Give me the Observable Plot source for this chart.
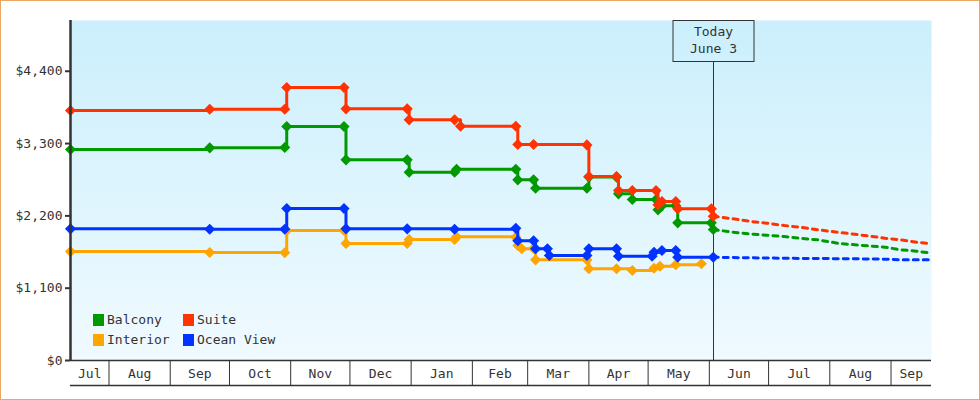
<!DOCTYPE html>
<html>
<head>
<meta charset="utf-8">
<script src="https://cdn.jsdelivr.net/npm/d3@7"></script>
<script src="https://cdn.jsdelivr.net/npm/@observablehq/plot@0.6"></script>
<style>
html, body { margin: 0; padding: 0; background: #fff; }
#wrap { position: relative; width: 980px; height: 400px; overflow: hidden; }
#wrap svg { display: block; }
.border { position: absolute; left: 0; top: 0; width: 980px; height: 400px; box-sizing: border-box; border: 1px solid #e9a862; pointer-events: none; }
</style>
</head>
<body>
<div id="wrap"><div class="border"></div></div>
<script>
// ---- Series ----
const seriesNames  = ["Balcony", "Suite", "Interior", "Ocean View"];
const seriesColors = ["#009900", "#ff3300", "#ffa500", "#0033ff"];
const drawOrder    = ["Interior", "Ocean View", "Balcony", "Suite"];

// ---- Observed prices ----
const balconyDates = ["2014-07-12T12:00Z","2014-09-21","2014-10-29","2014-10-30","2014-11-28","2014-11-29","2014-12-30","2014-12-31","2015-01-23","2015-01-24","2015-02-23","2015-02-24","2015-03-04","2015-03-05","2015-03-31","2015-04-01","2015-04-15","2015-04-16","2015-04-23","2015-05-05","2015-05-06","2015-05-08","2015-05-15","2015-05-16","2015-06-02","2015-06-03"];
const balconyPrices = [3209,3235,3240,3559,3559,3052,3052,2864,2864,2910,2910,2748,2748,2621,2621,2790,2790,2535,2449,2449,2292,2353,2353,2094,2094,1993];

const suiteDates = ["2014-07-12T12:00Z","2014-09-21","2014-10-29","2014-10-30","2014-11-28","2014-11-29","2014-12-30","2014-12-31","2015-01-23","2015-01-26","2015-02-23","2015-02-24","2015-03-04","2015-03-31","2015-04-01","2015-04-15","2015-04-16","2015-04-23","2015-05-05","2015-05-06","2015-05-08","2015-05-15","2015-05-16","2015-06-02","2015-06-03"];
const suitePrices = [3803,3822,3822,4152,4152,3828,3828,3661,3661,3564,3564,3285,3285,3280,2799,2799,2586,2586,2586,2368,2418,2418,2307,2307,2195];

const interiorDates = ["2014-07-12T12:00Z","2014-09-21","2014-10-29","2014-10-30","2014-11-28","2014-11-29","2014-12-30","2014-12-31","2015-01-23","2015-01-24","2015-02-23","2015-02-24","2015-02-26","2015-03-04","2015-03-05","2015-03-31","2015-04-01","2015-04-15","2015-04-23","2015-05-04","2015-05-07","2015-05-15","2015-05-28"];
const interiorPrices = [1658,1643,1640,1977,1977,1780,1780,1840,1840,1882,1876,1749,1699,1705,1531,1531,1395,1395,1369,1404,1434,1456,1471];

const oceanDates = ["2014-07-12T12:00Z","2014-09-21","2014-10-29","2014-10-30","2014-11-28","2014-11-29","2014-12-30","2015-01-23","2015-02-23","2015-02-24","2015-03-04","2015-03-05","2015-03-11","2015-03-12","2015-03-31","2015-04-01","2015-04-15","2015-04-16","2015-05-03","2015-05-04","2015-05-08","2015-05-15","2015-05-16","2015-06-03"];
const oceanPrices = [2003,1997,1997,2312,2312,2003,2003,1997,2010,1821,1821,1699,1699,1597,1597,1699,1699,1586,1586,1647,1673,1673,1571,1571];

// ---- Forecasts (after today) ----
const forecastDates  = ["2015-06-03","2015-06-13","2015-06-21","2015-06-30","2015-07-09","2015-07-17","2015-07-26","2015-08-05","2015-08-12","2015-08-20","2015-08-29","2015-09-06","2015-09-14","2015-09-21T12:00Z"];
const suiteForecast   = [2195,2155,2119,2089,2053,2028,1988,1951,1927,1897,1860,1835,1800,1775];
const balconyForecast = [1993,1951,1927,1906,1886,1860,1835,1784,1764,1745,1723,1684,1663,1632];
const oceanForecast   = [1571,1566,1562,1560,1555,1553,1551,1549,1547,1545,1541,1532,1532,1532];

// ---- Axes ----
const xDomain = ["2014-07-12T12:00Z", "2015-09-21T12:00Z"];
const yDomain = [0, 5172];
const yTicks = [0, 1100, 2200, 3300, 4400];
const monthStarts = ["2014-07-01","2014-08-01","2014-09-01","2014-10-01","2014-11-01","2014-12-01","2015-01-01","2015-02-01","2015-03-01","2015-04-01","2015-05-01","2015-06-01","2015-07-01","2015-08-01","2015-09-01","2015-10-01"];
const monthLabels = ["Jul","Aug","Sep","Oct","Nov","Dec","Jan","Feb","Mar","Apr","May","Jun","Jul","Aug","Sep"];

// ---- Annotation ----
const todayDate = "2015-06-03";
const todayLines = ["Today", "June 3"];

// ---- Build tables ----
const P = s => d3.isoParse(s.length === 10 ? s + "T00:00:00Z" : s);
const colorOf = Object.fromEntries(seriesNames.map((n, i) => [n, seriesColors[i]]));
const observed = {
  "Balcony": balconyDates.map((d, i) => ({date: P(d), price: balconyPrices[i]})),
  "Suite": suiteDates.map((d, i) => ({date: P(d), price: suitePrices[i]})),
  "Interior": interiorDates.map((d, i) => ({date: P(d), price: interiorPrices[i]})),
  "Ocean View": oceanDates.map((d, i) => ({date: P(d), price: oceanPrices[i]}))
};
const forecast = {
  "Suite": forecastDates.map((d, i) => ({date: P(d), price: suiteForecast[i]})),
  "Balcony": forecastDates.map((d, i) => ({date: P(d), price: balconyForecast[i]})),
  "Ocean View": forecastDates.map((d, i) => ({date: P(d), price: oceanForecast[i]}))
};
const dStart = P(xDomain[0]), dEnd = P(xDomain[1]);
const boundaries = monthStarts.map(P).filter(d => d > dStart && d < dEnd);
const monthCells = monthLabels.map((label, i) => {
  const a = new Date(Math.max(+P(monthStarts[i]), +dStart));
  const b = new Date(Math.min(+P(monthStarts[i + 1]), +dEnd));
  return {label, mid: new Date((+a + +b) / 2), ok: b > a};
}).filter(c => c.ok);

const ink = "#333";

function todayMark(index, scales, values, dims) {
  const g = d3.create("svg:g");
  const x = Math.round(scales.x(P(todayDate))) + 0.5;
  const top = dims.marginTop, bottom = dims.height - dims.marginBottom;
  const boxH = 41, boxW = 81;
  g.append("line").attr("x1", x).attr("x2", x).attr("y1", top + boxH).attr("y2", bottom)
    .attr("stroke", ink).attr("stroke-width", 1);
  g.append("rect").attr("x", x - boxW / 2).attr("y", top + 0.5).attr("width", boxW).attr("height", boxH)
    .attr("fill", "none").attr("stroke", ink).attr("stroke-width", 1);
  todayLines.forEach((t, i) => {
    g.append("text").attr("x", x).attr("y", top + 12.5 + i * 17).attr("text-anchor", "middle")
      .attr("dominant-baseline", "middle").attr("fill", ink).text(t);
  });
  return g.node();
}

function legendMark(index, scales, values, dims) {
  const g = d3.create("svg:g").attr("text-anchor", "start");
  const left = dims.marginLeft + 23;
  const bottom = dims.height - dims.marginBottom;
  seriesNames.forEach((name, i) => {
    const col = i % 2, row = Math.floor(i / 2);
    const x = left + col * 90, y = bottom - 40 + row * 20;
    g.append("rect").attr("x", x).attr("y", y - 6).attr("width", 11).attr("height", 12).attr("fill", seriesColors[i]);
    g.append("text").attr("x", x + 14).attr("y", y + 0.5).attr("dominant-baseline", "middle")
      .attr("text-anchor", "start").attr("fill", ink).text(name);
  });
  return g.node();
}

const marks = [
  Plot.frame({fill: "url(#bgGrad)", stroke: "none"}),
  Plot.axisY({ticks: yTicks, tickFormat: d => "$" + d3.format(",")(d), tickSize: 5, tickPadding: 3, strokeWidth: 2, stroke: ink, fill: ink, label: null}),
  Plot.axisX({ticks: boundaries, tickSize: 25, tickFormat: () => "", stroke: ink, strokeWidth: 1, label: null}),
  Plot.text(monthCells, {x: "mid", text: "label", frameAnchor: "bottom", dy: 13, lineAnchor: "middle", fill: ink}),
  Plot.ruleY([0], {stroke: ink, strokeWidth: 1.5}),
  Plot.ruleY([0], {stroke: ink, strokeWidth: 1.5, dy: 25}),
  todayMark
];
for (const name of drawOrder) {
  if (forecast[name]) {
    marks.push(Plot.line(forecast[name], {x: "date", y: "price", stroke: colorOf[name], strokeWidth: 3, strokeDasharray: "5,5"}));
  }
}
for (const name of drawOrder) {
  marks.push(Plot.line(observed[name], {x: "date", y: "price", stroke: colorOf[name], strokeWidth: 3, curve: "step-after"}));
  marks.push(Plot.dot(observed[name], {x: "date", y: "price", fill: colorOf[name], symbol: "diamond2", r: 5}));
}
marks.push(Plot.ruleX([dStart], {stroke: ink, strokeWidth: 2.5}));
marks.push(legendMark);

const chart = Plot.plot({
  width: 980,
  height: 400,
  marginLeft: 70,
  marginRight: 49,
  marginTop: 20,
  marginBottom: 40,
  x: {type: "utc", domain: [dStart, dEnd]},
  y: {domain: yDomain},
  style: {fontFamily: "'DejaVu Sans Mono', monospace", fontSize: "13px", color: ink, background: "#fff", overflow: "visible"},
  marks
});

const svg = d3.select(chart);
const grad = svg.insert("defs", ":first-child").append("linearGradient")
  .attr("id", "bgGrad").attr("x1", 0).attr("y1", 0).attr("x2", 0).attr("y2", 1);
grad.append("stop").attr("offset", "0%").attr("stop-color", "#cbeffc");
grad.append("stop").attr("offset", "100%").attr("stop-color", "#f0faff");

document.getElementById("wrap").insertBefore(chart, document.querySelector(".border"));
</script>
</body>
</html>
